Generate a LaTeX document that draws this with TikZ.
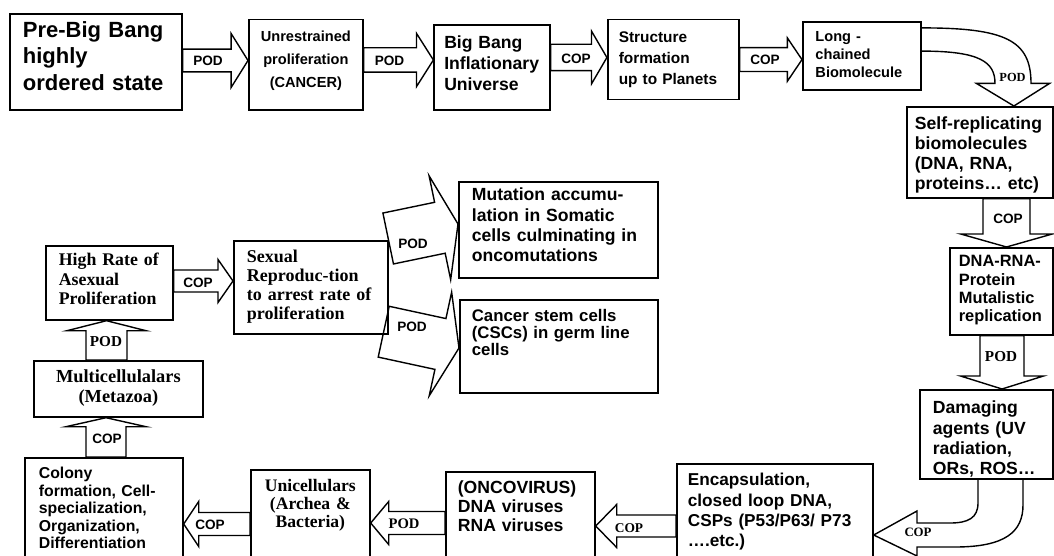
\documentclass[tikz,border=0pt]{standalone}
\usepackage{fontspec}
\setmainfont{Liberation Serif}
\setsansfont{Liberation Sans}
\usetikzlibrary{calc}
\newcommand{\fsz}[2]{\fontsize{#1}{#2}\selectfont}
\tikzstyle{box} = [draw, line width=0.85pt, anchor=north west, inner ysep=0pt, align=left]
\tikzstyle{blk} = [draw, line width=0.7pt, line join=miter]
\tikzstyle{lbs} = [inner sep=0pt, font=\sffamily\bfseries\fsz{6.8}{7}]
\tikzstyle{lbr} = [inner sep=0pt, font=\rmfamily\bfseries\fsz{7.6}{8}]
% block arrow: start, tip, shaft half width, head half width, head length
\newcommand{\blockarr}[5]{%
  \coordinate (ba-s) at (#1);
  \coordinate (ba-t) at (#2);
  \coordinate (ba-m) at ($(ba-t)!#5!(ba-s)$);
  \draw[blk] ($(ba-s)!#3!90:(ba-t)$) -- ($(ba-m)!#3!-90:(ba-s)$) -- ($(ba-m)!#4!-90:(ba-s)$) -- (ba-t)
    -- ($(ba-m)!#4!90:(ba-s)$) -- ($(ba-m)!#3!90:(ba-s)$) -- ($(ba-s)!#3!-90:(ba-t)$) -- cycle;
}

\begin{document}
\begin{tikzpicture}[x=0.5pt, y=-0.5pt]
        \path[use as bounding box] (0,0) rectangle (1054,556);
        \clip (0,0) rectangle (1054,556);
        
        %top row
        \node at (9,13) [box, font=\sffamily\bfseries\fsz{11}{13.2}, inner xsep=6.5pt, text width=73pt, text height=11.75pt, text depth=36.25pt] (pbb) {Pre-Big Bang\\highly\\ordered state};
        \node at (248,18.6) [box, align=center, font=\sffamily\bfseries\fsz{7.3}{11.5}, inner xsep=2pt, text width=53pt, text height=11pt, text depth=34.2pt] (unr) {Unrestrained\\proliferation\\(CANCER)};
        \node at (433.4,24.3) [box, font=\sffamily\bfseries\fsz{8.8}{10.6}, inner xsep=5pt, text width=47.8pt, text height=11.5pt, text depth=30.95pt] (bbu) {Big Bang\\Inflationary\\Universe};
        \node at (606.9,18.7) [box, font=\sffamily\bfseries\fsz{7.7}{10.45}, inner xsep=5.5pt, text width=54.5pt, text height=11.45pt, text depth=28.6pt] (stp) {Structure\\formation\\up to Planets};
        \node at (802,21.1) [box, font=\sffamily\bfseries\fsz{7.3}{9.1}, inner xsep=6.3pt, text width=46.5pt, text height=9.55pt, text depth=24.5pt] (lcb) {Long -\\chained\\Biomolecule};
        
        %right column
        \node at (906,106) [box, font=\sffamily\bfseries\fsz{8.8}{10}, inner xsep=4pt, text width=65pt, text height=11.5pt, text depth=34pt] (srb) {Self-replicating\\biomolecules\\(DNA, RNA,\\proteins… etc)};
        \node at (949,247) [box, font=\sffamily\bfseries\fsz{8.2}{9.15}, inner xsep=4.5pt, text width=42.5pt, text height=9.5pt, text depth=34pt] (drp) {DNA-RNA-\\Protein\\Mutalistic\\replication};
        \node at (919,389) [box, font=\sffamily\bfseries\fsz{8.8}{10.15}, inner xsep=6.5pt, text width=53.5pt, text height=12pt, text depth=32.5pt] (dmg) {Damaging\\agents (UV\\radiation,\\ORs, ROS…};
        
        %bottom row
        \node at (676,463) [box, font=\sffamily\bfseries\fsz{8.6}{10.15}, inner xsep=5.5pt, text width=87pt, text height=11pt, text depth=45pt] (enc) {Encapsulation,\\closed loop DNA,\\CSPs (P53/P63/ P73\\….etc.)};
        \node at (445,471) [box, font=\sffamily\bfseries\fsz{8.8}{9.5}, inner xsep=6pt, text width=62.5pt, text height=11pt, text depth=41pt] (onc) {(ONCOVIRUS)\\DNA viruses\\RNA viruses};
        \node at (250,469) [box, align=center, font=\rmfamily\bfseries\fsz{8.8}{9}, inner xsep=2pt, text width=55.5pt, text height=11pt, text depth=42pt] (uni) {Unicellulars\\(Archea \&\\Bacteria)};
        \node at (24,457) [box, font=\sffamily\bfseries\fsz{7.9}{8.75}, inner xsep=7pt, text width=65pt, text height=10.5pt, text depth=48.5pt] (col) {Colony\\formation, Cell-\\specialization,\\Organization,\\Differentiation};
        
        %left column and middle
        \node at (33,360) [box, align=center, font=\rmfamily\bfseries\fsz{9.2}{10}, inner xsep=2pt, text width=80.5pt, text height=11pt, text depth=17pt] (mul) {Multicellulalars\\(Metazoa)};
        \node at (45,245) [box, font=\rmfamily\bfseries\fsz{8.9}{9.75}, inner xsep=6.5pt, text width=50.5pt, text height=10pt, text depth=27pt] (hra) {High Rate of\\Asexual\\Proliferation};
        \node at (233,240) [box, font=\rmfamily\bfseries\fsz{9}{9.4}, inner xsep=6.5pt, text width=64pt, text height=11pt, text depth=35.5pt] (sex) {Sexual\\Reproduc-tion\\to arrest rate of\\proliferation};
        \node at (458,181) [box, font=\sffamily\bfseries\fsz{8.8}{10.15}, inner xsep=6.5pt, text width=86.5pt, text height=9.5pt, text depth=38.5pt] (mut) {Mutation accumu-\\lation in Somatic\\cells culminating in\\oncomutations};
        \node at (459,299) [box, font=\sffamily\bfseries\fsz{8.4}{8.5}, inner xsep=6pt, text width=87pt, text height=11pt, text depth=35.5pt] (csc) {Cancer stem cells\\(CSCs) in germ line\\cells};
        
        %block arrows
        \blockarr{pbb.east |- 0,60.5}{unr.west |- 0,60.5}{5.7pt}{13.5pt}{8.45pt}
        \blockarr{unr.east |- 0,60}{bbu.west |- 0,60}{6.1pt}{13.3pt}{8.45pt}
        \blockarr{bbu.east |- 0,57.5}{stp.west |- 0,57.5}{6.6pt}{13.2pt}{7.7pt}
        \blockarr{stp.east |- 0,59.6}{lcb.west |- 0,59.6}{5.95pt}{10.8pt}{7.3pt}
        \blockarr{1006.5,0 |- srb.south}{1006.5,0 |- drp.north}{11.75pt}{22.9pt}{6.5pt}
        \blockarr{1002,0 |- drp.south}{1002,0 |- dmg.north}{11pt}{20.75pt}{6.5pt}
        \blockarr{enc.west |- 0,526}{onc.east |- 0,526}{5.5pt}{10.75pt}{10.5pt}
        \blockarr{onc.west |- 0,523}{uni.east |- 0,523}{5.75pt}{10.75pt}{9pt}
        \blockarr{uni.west |- 0,524}{col.east |- 0,524}{5.75pt}{11.25pt}{7.5pt}
        \blockarr{106,0 |- col.north}{106,0 |- mul.south}{10pt}{20pt}{4.5pt}
        \blockarr{106.5,0 |- mul.north}{106.5,0 |- hra.south}{10.25pt}{19.75pt}{5pt}
        \blockarr{hra.east |- 0,281}{sex.west |- 0,281}{5.5pt}{10.75pt}{7.5pt}
        \blockarr{$(sex.north east)+(-0.5,-1.5)$}{mut.west |- 0,224}{13pt}{26.5pt}{9.25pt}
        \blockarr{$(sex.south east)+(-5,-3)$}{csc.west |- 0,348}{13pt}{26.5pt}{9.5pt}
        
        %curved arrows
        \draw[blk] ($(lcb.north east)+(0,6.8)$) .. controls (1005,27.9) and (1031,40) .. (1031,83.4) -- (1049.6,83.4) -- (1013.9,0 |- srb.north) -- (976.4,83.4) -- (995,83.4) .. controls (995,62) and (980,51.1) .. ($(lcb.north east)+(0,30)$);
        \draw[blk] (978,0 |- dmg.south) -- (978,503) .. controls (978,518) and (968,523) .. (950,523) -- (917,523) -- (917,511) -- (enc.east |- 0,535) -- (917,556) -- (917,547) -- (955,547) .. controls (1005,547) and (1023,532) .. (1023,505) -- (1023,0 |- dmg.south);
        
        %arrow labels
        \node at (208,61) [lbs] (l1) {POD};
        \node at (389.5,61) [lbs] (l2) {POD};
        \node at (576,59) [lbs] (l3) {COP};
        \node at (765,60) [lbs] (l4) {COP};
        \node at (1012.5,77) [lbr, font=\rmfamily\bfseries\fsz{6.2}{7}] (l5) {POD};
        \node at (1008,219) [lbs] (l6) {COP};
        \node at (1001,357) [lbr] (l7) {POD};
        \node at (918,532) [lbr, font=\rmfamily\bfseries\fsz{6.4}{7}] (l8) {COP};
        \node at (629,528) [lbr, font=\rmfamily\bfseries\fsz{6.7}{7}] (l9) {COP};
        \node at (404,524) [lbr, font=\rmfamily\bfseries\fsz{7.3}{8}] (l10) {POD};
        \node at (210,525) [lbs] (l11) {COP};
        \node at (107,439) [lbs] (l12) {COP};
        \node at (106,342) [lbr] (l13) {POD};
        \node at (198,283) [lbs] (l14) {COP};
        \node at (413,244) [lbs] (l15) {POD};
        \node at (412,327) [lbs] (l16) {POD};
    
    \end{tikzpicture}
\end{document}
